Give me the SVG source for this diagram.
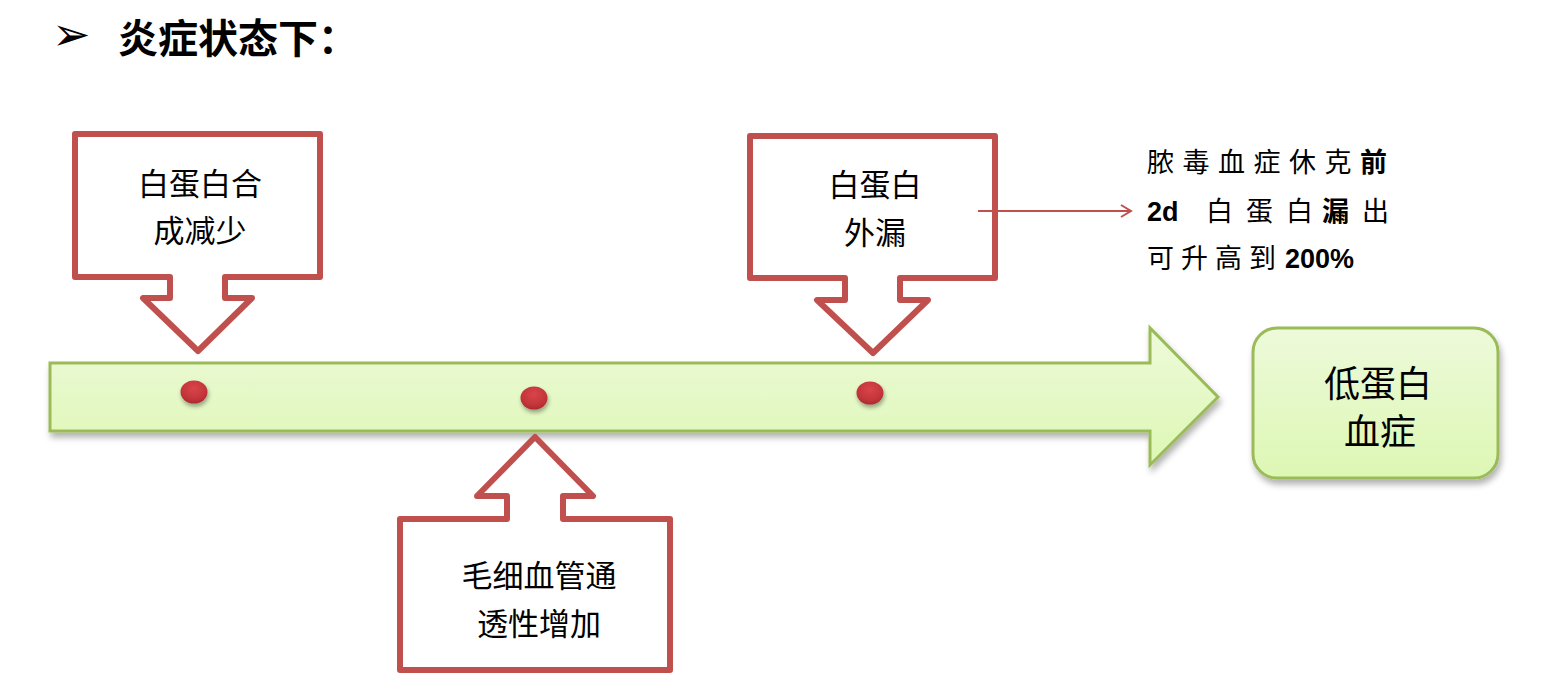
<svg xmlns="http://www.w3.org/2000/svg" width="1548" height="698" viewBox="0 0 1548 698">
<defs>
<linearGradient id="gGreen" x1="0" y1="0" x2="0" y2="1">
<stop offset="0" stop-color="#EDFADA"/>
<stop offset="1" stop-color="#DDF7B4"/>
</linearGradient>
<radialGradient id="gDot" cx="0.5" cy="0.35" r="0.65">
<stop offset="0" stop-color="#D8454A"/>
<stop offset="0.7" stop-color="#C3353A"/>
<stop offset="1" stop-color="#A92B30"/>
</radialGradient>
<filter id="shadow" x="-10%" y="-20%" width="120%" height="150%">
<feDropShadow dx="2" dy="5" stdDeviation="3" flood-color="#000" flood-opacity="0.3"/>
</filter>
<filter id="dshadow" x="-50%" y="-50%" width="200%" height="200%">
<feDropShadow dx="1" dy="3" stdDeviation="2" flood-color="#000" flood-opacity="0.35"/>
</filter>
<marker id="openArrow" markerWidth="14" markerHeight="14" refX="12" refY="7" orient="auto" markerUnits="userSpaceOnUse">
<path d="M2,1 L12,7 L2,13" fill="none" stroke="#C0504D" stroke-width="2"/>
</marker>
</defs>
<style>
.callout{fill:#FFFFFF;stroke:#C0504D;stroke-width:6;stroke-linejoin:round}
.green{fill:url(#gGreen);stroke:#9BBB59;stroke-width:3}
.cjk{font-family:"Noto Sans CJK SC",sans-serif;fill:#000}
.lbl{font-size:31px;text-anchor:middle}
.res{font-size:36px;text-anchor:middle}
.side{font-size:27px}
.b{font-weight:bold}
.lat{font-family:"Liberation Sans","Noto Sans CJK SC",sans-serif;font-weight:bold}
.dot{fill:url(#gDot);filter:url(#dshadow)}
</style>

<g id="title">
<text x="52" y="50" font-family="DejaVu Sans,sans-serif" font-size="46" fill="#000">➢</text>
<text x="118" y="53" class="cjk b" font-size="40">炎症状态下：</text>
</g>

<g id="timeline">
<path class="green" filter="url(#shadow)" d="M50,363 H1150 V328 L1218,397 L1150,465 V431 H50 Z"/>
<ellipse class="dot" cx="194" cy="392" rx="13.5" ry="11.5"/>
<ellipse class="dot" cx="534" cy="398" rx="13.5" ry="11.5"/>
<ellipse class="dot" cx="870" cy="393" rx="13.5" ry="11.5"/>
</g>

<g id="node-albumin-synthesis">
<path class="callout" d="M75,134 H320 V277 H225 V298 H252 L198,351 L143,298 H170 V277 H75 Z"/>
<text class="cjk lbl" x="200" y="195">白蛋白合</text>
<text class="cjk lbl" x="200" y="242">成减少</text>
</g>

<g id="node-permeability">
<path class="callout" d="M400,519 H507 V496 H477 L535,437 L593,496 H563 V519 H670 V670 H400 Z"/>
<text class="cjk lbl" x="539" y="587">毛细血管通</text>
<text class="cjk lbl" x="539" y="635">透性增加</text>
</g>

<g id="node-leak">
<path class="callout" d="M750,136 H995 V278 H900 V300 H928 L873,353 L817,300 H845 V278 H750 Z"/>
<text class="cjk lbl" x="875" y="196">白蛋白</text>
<text class="cjk lbl" x="875" y="244">外漏</text>
</g>

<g id="node-note">
<text class="cjk side" x="1147" y="172" letter-spacing="8.5">脓毒血症休克<tspan class="b">前</tspan></text>
<text class="cjk side" y="221"><tspan class="lat" x="1147">2d</tspan><tspan x="1206">白</tspan><tspan x="1246">蛋</tspan><tspan x="1286">白</tspan><tspan class="b" x="1322">漏</tspan><tspan x="1362">出</tspan></text>
<text class="cjk side" x="1147" y="268" letter-spacing="7">可升高到<tspan class="lat" x="1285" letter-spacing="0">200%</tspan></text>
</g>

<g id="node-result">
<rect class="green" filter="url(#shadow)" x="1253" y="328" width="245" height="150" rx="24" ry="24" stroke-width="2.5"/>
<text class="cjk res" x="1378" y="397">低蛋白</text>
<text class="cjk res" x="1380" y="445">血症</text>
</g>

<g id="connectors">
<line x1="978" y1="211" x2="1131" y2="211" stroke="#C0504D" stroke-width="2" marker-end="url(#openArrow)"/>
</g>
</svg>
